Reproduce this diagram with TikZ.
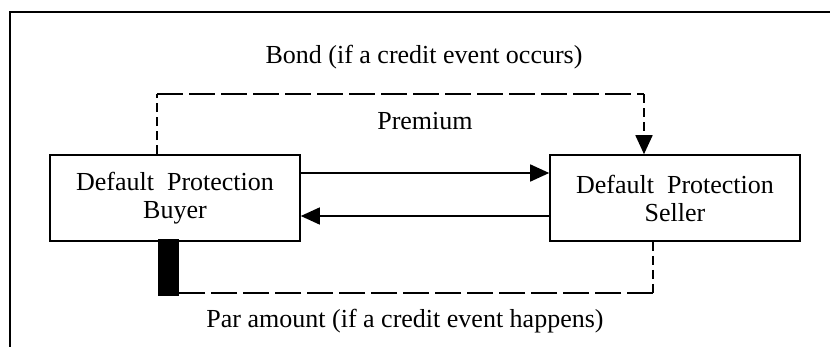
\documentclass[tikz,border=0pt]{standalone}
\usepackage{fontspec}
\setmainfont{Liberation Serif}
\usetikzlibrary{arrows.meta}
\begin{document}
\begin{tikzpicture}[x=1pt,y=-1pt,
  party/.style={draw, line width=1.6pt, minimum width=250pt, minimum height=86pt,
    inner sep=0pt, align=center, font=\fontsize{26}{28}\selectfont},
  txt/.style={font=\fontsize{26}{28}\selectfont, inner sep=0pt},
  tip/.style={-{Triangle[length=19pt,width=17pt]}},
  flow/.style={line width=1.6pt, tip},
  cash/.style={line width=1.8pt, dash pattern=on 26pt off 6pt},
  cashv/.style={line width=1.8pt, dash pattern=on 9pt off 5pt},
]
\useasboundingbox (0,0) rectangle (830,347);
\clip (0,0) rectangle (830,347);

% outer frame
\draw[line width=2.2pt] (10,380) -- (10,12) -- (880,12);

% the two parties
\node[party] (buyer) at (175,198) {Default\ \ Protection\\Buyer};
\node[party] (seller) at (675,198) {Default\ \ Protection\\Seller};
\node[fill=black, minimum width=21pt, minimum height=57pt, inner sep=0pt] (bar) at (168.5,267.5) {};

% captions
\node[txt] (bond) at (424,57) {Bond (if a credit event occurs)};
\node[txt] (premium) at (425,121) {Premium};
\node[txt] (par) at (405,321) {Par amount (if a credit event happens)};

% premium flows
\draw[flow] ([yshift=25pt]buyer.east) -- ([yshift=25pt]seller.west);
\draw[flow] ([yshift=-18pt]seller.west) -- ([yshift=-18pt]buyer.east);

% bond delivered on a credit event
\coordinate (bout) at ([xshift=-18pt]buyer.north);
\coordinate (sin) at ([xshift=-31pt]seller.north);
\coordinate (tl) at ([yshift=60pt]bout);
\coordinate (tr) at (tl -| sin);
\draw[cashv] (bout) -- (tl);
\draw[cash] (tl) -- (tr);
\draw[cashv, tip] (tr) -- (sin);

% par amount paid on a credit event
\coordinate (sout) at ([xshift=-22pt]seller.south);
\coordinate (bin) at ([yshift=3pt]bar.south east);
\coordinate (br) at (sout |- bin);
\draw[cashv] (sout) -- (br);
\draw[cash] (br) -- (bin);
\end{tikzpicture}
\end{document}
